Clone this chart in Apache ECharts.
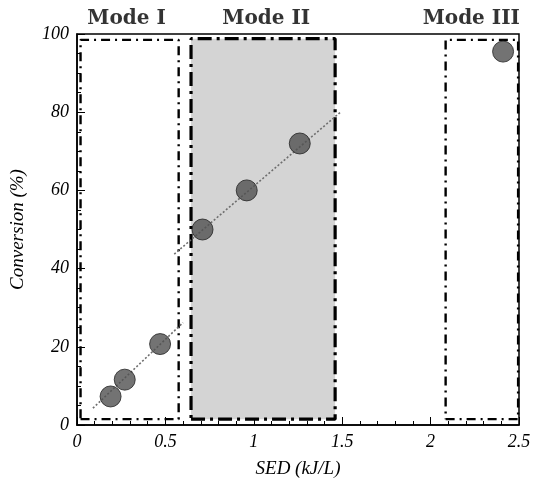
<!DOCTYPE html>
<html>
<head>
<meta charset="utf-8">
<script src="https://cdn.jsdelivr.net/npm/echarts@6/dist/echarts.min.js"></script>
<style>
  html, body { margin: 0; padding: 0; background: #fff; }
  #container { width: 542px; height: 483px; }
</style>
</head>
<body>
<div id="container"></div>
<script>
// measured points: SED (kJ/L), conversion (%)
var sed = [0.19, 0.27, 0.47, 0.71, 0.96, 1.26, 2.41];
var conversion = [7.3, 11.6, 20.7, 50, 60, 72, 95.5];

// two linear fits (endpoints)
var fitModeI = [[0.09, 4.3], [0.6, 26.2]];
var fitModeII = [[0.55, 43.7], [1.49, 80]];

// mode boxes: [xStart, xEnd, yBottom, yTop]
var modeNames = ['Mode I', 'Mode II', 'Mode III'];
var modeBoxes = [
    [0.02, 0.575, 1.5, 98.5],
    [0.645, 1.46, 1.5, 98.8],
    [2.085, 2.495, 1.5, 98.5]
];
var modeLabelX = [0.28, 1.07, 2.23];

var xTicks = [0, 0.5, 1, 1.5, 2, 2.5];
var yTicks = [0, 20, 40, 60, 80, 100];

var dom = document.getElementById('container');
var myChart = echarts.init(dom, null, { renderer: 'canvas' });

function boxPath(b) {
    return [[b[0], b[2]], [b[1], b[2]], [b[1], b[3]], [b[0], b[3]], [b[0], b[2]]];
}

var serif = "'Liberation Serif', 'DejaVu Serif', serif";

var series = [];
modeBoxes.forEach(function (b, i) {
    var s = {
        name: modeNames[i],
        type: 'line',
        data: boxPath(b),
        symbol: 'none',
        silent: true,
        z: 3,
        lineStyle: {
            color: '#000',
            width: i === 1 ? 3.2 : 2.4,
            type: i === 1 ? [14, 5, 3, 5] : [9, 5, 2, 5]
        }
    };
    if (i === 1) {
        s.markArea = {
            silent: true,
            itemStyle: { color: '#d4d4d4' },
            data: [[{ coord: [b[0], b[2]] }, { coord: [b[1], b[3]] }]]
        };
    }
    series.push(s);
});

[fitModeI, fitModeII].forEach(function (f) {
    series.push({
        type: 'line',
        data: f,
        symbol: 'none',
        silent: true,
        z: 4,
        lineStyle: { color: '#6e6e6e', width: 1.6, type: [2, 2] }
    });
});

series.push({
    type: 'scatter',
    data: sed.map(function (x, i) { return [x, conversion[i]]; }),
    symbolSize: 21,
    z: 5,
    itemStyle: { color: '#505050', borderColor: '#222', borderWidth: 1 }
});

series.push({
    type: 'scatter',
    data: modeLabelX.map(function (x) { return [x, 100]; }),
    symbolSize: 0,
    silent: true,
    label: {
        show: true,
        position: 'top',
        distance: 5,
        formatter: function (p) { return modeNames[p.dataIndex]; },
        fontFamily: "'DejaVu Serif', serif",
        fontWeight: 'bold',
        fontSize: 20,
        color: '#000'
    }
});

var option = {
    backgroundColor: '#fff',
    animation: false,
    grid: {
        left: 76, right: 23, top: 34, bottom: 51,
        show: true,
        borderColor: '#000',
        borderWidth: 1.5,
        backgroundColor: 'transparent'
    },
    xAxis: {
        type: 'value',
        min: 0, max: 2.5, interval: 0.5,
        name: 'SED (kJ/L)',
        nameLocation: 'middle',
        nameGap: 34,
        nameTextStyle: { fontFamily: serif, fontStyle: 'italic', fontSize: 19, color: '#000' },
        axisLine: { lineStyle: { color: '#000', width: 1.5 } },
        axisTick: { inside: true, length: 8, lineStyle: { color: '#000' } },
        minorTick: { show: true, splitNumber: 5, length: 4, lineStyle: { color: '#000' } },
        splitLine: { show: false },
        axisLabel: {
            margin: 8,
            fontFamily: serif, fontStyle: 'italic', fontSize: 18, color: '#000',
            formatter: function (v) { return xTicks.indexOf(v) >= 0 ? String(v) : ''; }
        }
    },
    yAxis: {
        type: 'value',
        min: 0, max: 100, interval: 20,
        name: 'Conversion (%)',
        nameLocation: 'middle',
        nameGap: 50,
        nameTextStyle: { fontFamily: serif, fontStyle: 'italic', fontSize: 19, color: '#000' },
        axisLine: { show: true, lineStyle: { color: '#000', width: 1.5 } },
        axisTick: { show: true, inside: true, length: 8, lineStyle: { color: '#000' } },
        minorTick: { show: true, splitNumber: 4, length: 4, lineStyle: { color: '#000' } },
        splitLine: { show: false },
        axisLabel: {
            margin: 8,
            fontFamily: serif, fontStyle: 'italic', fontSize: 18, color: '#000',
            formatter: function (v) { return yTicks.indexOf(v) >= 0 ? String(v) : ''; }
        }
    },
    series: series
};

myChart.setOption(option);
window.addEventListener('resize', myChart.resize);
</script>
</body>
</html>
